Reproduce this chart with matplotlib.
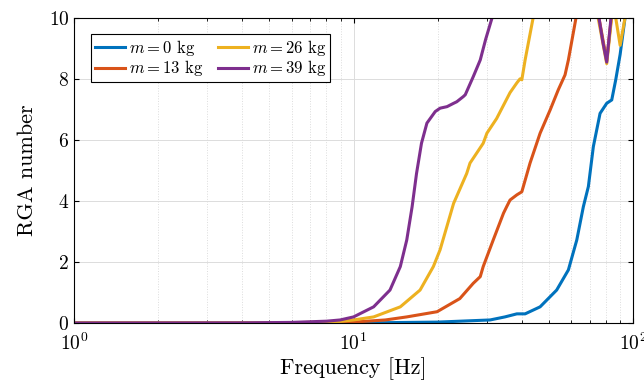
import numpy as np
import matplotlib
matplotlib.use('Agg')
import matplotlib.pyplot as plt

plt.rcParams['font.family'] = 'serif'
plt.rcParams['font.serif'] = ['cmr10']
plt.rcParams['mathtext.fontset'] = 'cm'
plt.rcParams['axes.formatter.use_mathtext'] = True

# RGA number vs frequency for each payload mass
f_0kg = [1, 10, 20, 30.8, 34.8, 38.4, 41.1, 46.5, 53.3, 58.7, 62.9, 66.4,
         69.2, 72.1, 76.2, 80.5, 83.9, 86.7, 89.9, 93.6, 96, 100]
rga_0kg = [0.0, 0.0, 0.03, 0.1, 0.2, 0.3, 0.3, 0.53, 1.08, 1.74, 2.72, 3.81,
           4.47, 5.78, 6.87, 7.2, 7.31, 7.97, 8.8, 10.0, 12, 14]

f_13kg = [1, 5, 8, 10, 13, 15.5, 19.9, 24.0, 26.8, 28.4, 29.1, 31.6, 34.4,
          35.3, 36.3, 38.4, 40.0, 42.8, 46.5, 50.5, 54.0, 57.1, 58.7, 62.5,
          64, 74, 75.5, 80.5, 83.6, 85, 100]
rga_13kg = [0.0, 0.0, 0.01, 0.03, 0.1, 0.2, 0.37, 0.8, 1.3, 1.52, 1.85, 2.72,
            3.6, 3.81, 4.03, 4.2, 4.3, 5.24, 6.22, 6.98, 7.64, 8.13, 8.62,
            10.0, 11, 14, 10.0, 8.6, 10.0, 11, 14]

f_26kg = [1, 5, 8, 8.95, 10, 11.8, 14.7, 17.3, 19.3, 20.4, 22.8, 25.4, 26.1,
          29.1, 30.0, 32.5, 36.3, 38.4, 39.4, 40.0, 41.1, 43.9, 45, 74, 75.0,
          80.5, 83.8, 85.2, 86.7, 89.9, 93.6, 95, 100]
rga_26kg = [0.0, 0.0, 0.03, 0.05, 0.1, 0.2, 0.53, 1.08, 1.85, 2.4, 3.92, 4.9,
            5.24, 5.89, 6.22, 6.7, 7.55, 7.87, 8.0, 7.97, 8.62, 10.0, 11, 14,
            10.0, 8.5, 10.0, 11, 10.0, 9.1, 10.0, 11, 14]

f_39kg = [1, 4, 6, 8, 8.95, 10, 11.8, 13.5, 14.7, 15.5, 16.2, 16.8, 17.5,
          18.3, 19.6, 20.4, 21.6, 22.8, 23.4, 24.7, 25.1, 26.8, 28.4, 29.7,
          31.3, 32, 74, 75.5, 78, 80.5, 83.4, 85, 100]
rga_39kg = [0.0, 0.005, 0.02, 0.06, 0.1, 0.2, 0.53, 1.08, 1.85, 2.72, 3.81,
            4.9, 5.89, 6.55, 6.93, 7.04, 7.09, 7.2, 7.25, 7.42, 7.48, 8.07,
            8.62, 9.3, 10.0, 10.8, 14, 10.0, 9.2, 8.55, 10.0, 11, 14]

masses = [0, 13, 26, 39]
freqs = [f_0kg, f_13kg, f_26kg, f_39kg]
rgas = [rga_0kg, rga_13kg, rga_26kg, rga_39kg]
colors = ['#0072BD', '#D95319', '#EDB120', '#7E2F8E']

fig = plt.figure(figsize=(6.44, 3.88), dpi=100)
ax = fig.add_axes([0.115, 0.1675, 0.868, 0.7865])

for m, f, r, c in zip(masses, freqs, rgas, colors):
    ax.plot(f, r, color=c, lw=2.2, label=r'$m = %d$ kg' % m)

ax.set_xscale('log')
ax.set_xlim(1, 100)
ax.set_ylim(0, 10)
ax.set_yticks([0, 2, 4, 6, 8, 10])
ax.set_xlabel('Frequency [Hz]', fontsize=16, labelpad=2)
ax.set_ylabel('RGA number', fontsize=16, labelpad=8)
ax.tick_params(axis='both', which='both', direction='in', top=True, right=True,
               labelsize=14)
ax.tick_params(axis='x', which='major', pad=7)
ax.grid(True, which='major', color='#dcdcdc', lw=0.7)
ax.grid(True, which='minor', axis='x', color='#dcdcdc', lw=0.7, ls=':')
ax.set_axisbelow(True)

leg = ax.legend(loc='upper left', ncol=2, fontsize=12, frameon=True,
                fancybox=False, edgecolor='black', framealpha=1,
                handlelength=1.8, handletextpad=0.25, columnspacing=0.85,
                borderpad=0.2, labelspacing=0.05, borderaxespad=0,
                bbox_to_anchor=(0.031, 0.946))
leg.get_frame().set_linewidth(0.8)

fig.savefig('out.png', dpi=100)
